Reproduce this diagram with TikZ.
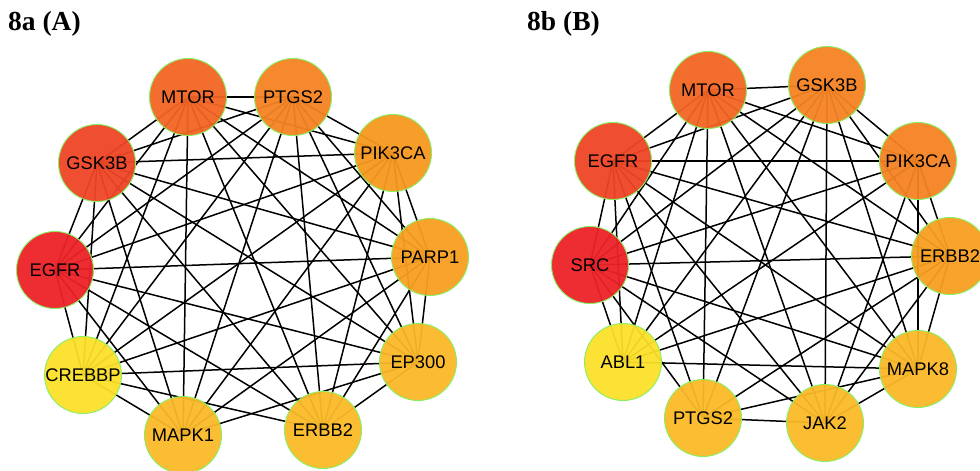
\documentclass[tikz,border=0pt]{standalone}
\usepackage{fontspec}
\setmainfont{Liberation Sans}
\newfontfamily\titlefont{Liberation Serif}
\begin{document}
\begin{tikzpicture}[x=1pt,y=-1pt,
  gene/.style={circle,minimum size=77pt,inner sep=0pt,draw=gborder,line width=0.9pt,
    fill opacity=0.95,text opacity=1,font=\fontsize{18.3}{21}\selectfont},
  link/.style={line width=1.5pt,black},
  paneltitle/.style={anchor=base west,inner sep=0pt,font=\titlefont\bfseries\fontsize{27.5}{32}\selectfont}]
\definecolor{gborder}{HTML}{86F060}
\definecolor{rA}{HTML}{EC2227}
\definecolor{rB}{HTML}{EF4526}
\definecolor{rC}{HTML}{F26524}
\definecolor{rD}{HTML}{F58322}
\definecolor{rE}{HTML}{F7981F}
\definecolor{rF}{HTML}{F89F21}
\definecolor{rG}{HTML}{FBB829}
\definecolor{rH}{HTML}{FBBA28}
\definecolor{rI}{HTML}{FBB928}
\definecolor{rJ}{HTML}{FCE029}
\useasboundingbox (0,0) rectangle (980,471);

\node[paneltitle] (ta) at (8,30) {8a (A)};
\node[paneltitle] (tb) at (527,30) {8b (B)};

% ---- network A: node positions ----
\coordinate (aEGFR) at (55,270);
\coordinate (aGSK3B) at (97,163);
\coordinate (aMTOR) at (188,97);
\coordinate (aPTGS2) at (293,97);
\coordinate (aPIK3CA) at (393,153);
\coordinate (aPARP1) at (430,257);
\coordinate (aEP300) at (418,362);
\coordinate (aERBB2) at (323,430);
\coordinate (aMAPK1) at (183,435);
\coordinate (aCREBBP) at (83,375);

% ---- network B: node positions ----
\coordinate (bSRC) at (590,265);
\coordinate (bEGFR) at (613,161);
\coordinate (bMTOR) at (708,90);
\coordinate (bGSK3B) at (827,85);
\coordinate (bPIK3CA) at (918,161);
\coordinate (bERBB2) at (950,256);
\coordinate (bMAPK8) at (918,369);
\coordinate (bJAK2) at (825,423);
\coordinate (bPTGS2) at (703,418);
\coordinate (bABL1) at (623,362);

% ---- interactions A ----
\foreach \u/\v in {
  EGFR/GSK3B,EGFR/MTOR,EGFR/PTGS2,EGFR/PIK3CA,EGFR/PARP1,EGFR/EP300,EGFR/ERBB2,EGFR/MAPK1,EGFR/CREBBP,
  GSK3B/MTOR,GSK3B/PTGS2,GSK3B/PIK3CA,GSK3B/PARP1,GSK3B/EP300,GSK3B/ERBB2,GSK3B/MAPK1,GSK3B/CREBBP,
  MTOR/PTGS2,MTOR/PIK3CA,MTOR/PARP1,MTOR/EP300,MTOR/ERBB2,MTOR/MAPK1,MTOR/CREBBP,
  PTGS2/PIK3CA,PTGS2/PARP1,PTGS2/EP300,PTGS2/ERBB2,PTGS2/MAPK1,PTGS2/CREBBP,
  PIK3CA/PARP1,PIK3CA/EP300,PIK3CA/ERBB2,PIK3CA/MAPK1,PIK3CA/CREBBP,
  PARP1/EP300,PARP1/ERBB2,PARP1/MAPK1,PARP1/CREBBP,
  EP300/ERBB2,EP300/MAPK1,EP300/CREBBP,
  ERBB2/CREBBP,
  MAPK1/CREBBP}
  \draw[link] (a\u) -- (a\v);

% ---- interactions B ----
\foreach \u/\v in {
  SRC/EGFR,SRC/MTOR,SRC/GSK3B,SRC/PIK3CA,SRC/ERBB2,SRC/MAPK8,SRC/JAK2,SRC/PTGS2,SRC/ABL1,
  EGFR/MTOR,EGFR/GSK3B,EGFR/PIK3CA,EGFR/ERBB2,EGFR/MAPK8,EGFR/JAK2,EGFR/PTGS2,EGFR/ABL1,
  MTOR/GSK3B,MTOR/PIK3CA,MTOR/ERBB2,MTOR/MAPK8,MTOR/JAK2,MTOR/PTGS2,MTOR/ABL1,
  GSK3B/PIK3CA,GSK3B/ERBB2,GSK3B/MAPK8,GSK3B/JAK2,GSK3B/PTGS2,GSK3B/ABL1,
  PIK3CA/ERBB2,PIK3CA/MAPK8,PIK3CA/JAK2,PIK3CA/ABL1,
  ERBB2/MAPK8,ERBB2/JAK2,ERBB2/PTGS2,ERBB2/ABL1,
  MAPK8/JAK2,MAPK8/PTGS2,MAPK8/ABL1,
  JAK2/PTGS2}
  \draw[link] (b\u) -- (b\v);

% ---- genes A ----
\node[gene,fill=rA] (nAEGFR) at (aEGFR) {EGFR};
\node[gene,fill=rB] (nAGSK3B) at (aGSK3B) {GSK3B};
\node[gene,fill=rC] (nAMTOR) at (aMTOR) {MTOR};
\node[gene,fill=rD] (nAPTGS2) at (aPTGS2) {PTGS2};
\node[gene,fill=rE] (nAPIK3CA) at (aPIK3CA) {PIK3CA};
\node[gene,fill=rF] (nAPARP1) at (aPARP1) {PARP1};
\node[gene,fill=rG] (nAEP300) at (aEP300) {EP300};
\node[gene,fill=rH] (nAERBB2) at (aERBB2) {ERBB2};
\node[gene,fill=rI] (nAMAPK1) at (aMAPK1) {MAPK1};
\node[gene,fill=rJ] (nACREBBP) at (aCREBBP) {CREBBP};

% ---- genes B ----
\node[gene,fill=rA] (nBSRC) at (bSRC) {SRC};
\node[gene,fill=rB] (nBEGFR) at (bEGFR) {EGFR};
\node[gene,fill=rC] (nBMTOR) at (bMTOR) {MTOR};
\node[gene,fill=rD] (nBGSK3B) at (bGSK3B) {GSK3B};
\node[gene,fill=rD] (nBPIK3CA) at (bPIK3CA) {PIK3CA};
\node[gene,fill=rF] (nBERBB2) at (bERBB2) {ERBB2};
\node[gene,fill=rG] (nBMAPK8) at (bMAPK8) {MAPK8};
\node[gene,fill=rH] (nBJAK2) at (bJAK2) {JAK2};
\node[gene,fill=rH] (nBPTGS2) at (bPTGS2) {PTGS2};
\node[gene,fill=rJ] (nBABL1) at (bABL1) {ABL1};
\end{tikzpicture}
\end{document}
